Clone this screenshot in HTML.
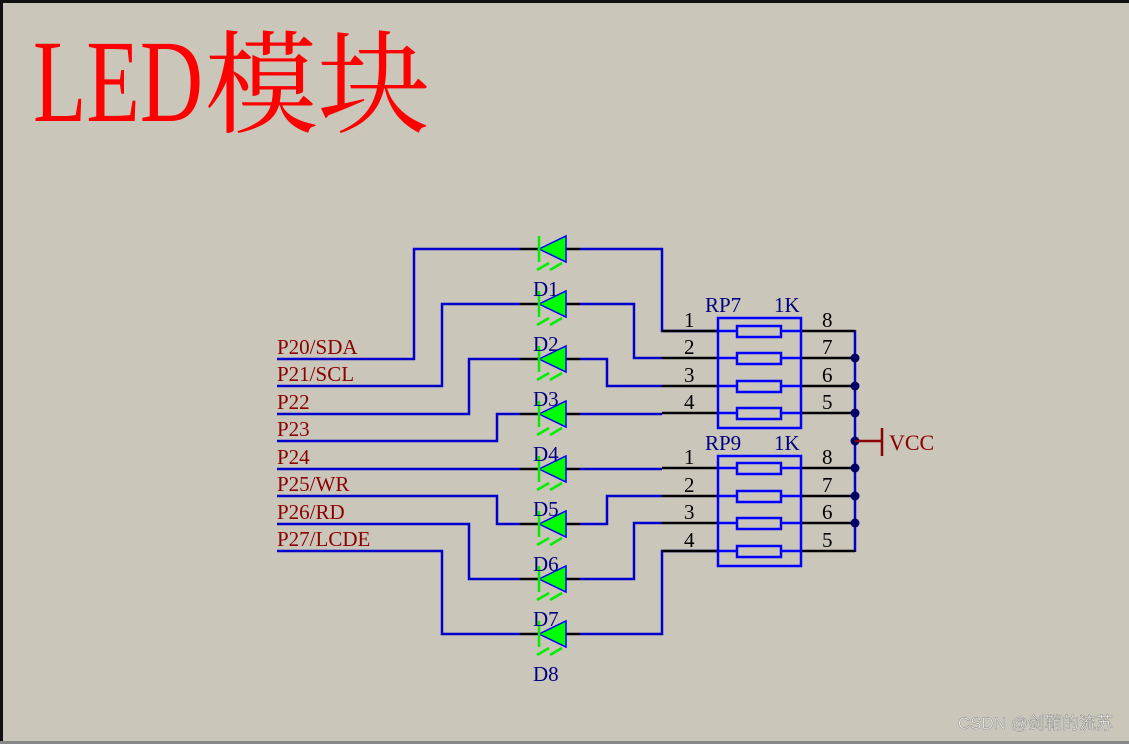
<!DOCTYPE html>
<html><head><meta charset="utf-8"><style>
html,body{margin:0;padding:0;background:#cac6ba;}
svg{display:block}
</style></head><body>
<svg width="1129" height="744" viewBox="0 0 1129 744" xmlns="http://www.w3.org/2000/svg">
<defs>
<g id="dio">
<line x1="520" y1="0" x2="539" y2="0" stroke="#000" stroke-width="2.5"/>
<line x1="566" y1="0" x2="580" y2="0" stroke="#000" stroke-width="2.5"/>
<polygon points="539,0 566,-13 566,13" fill="#00ff00" stroke="#0000ff" stroke-width="1.5"/>
<line x1="539" y1="-13" x2="539" y2="13" stroke="#00ee00" stroke-width="2.5"/>
<line x1="537" y1="21" x2="549" y2="14" stroke="#00ee00" stroke-width="2.5"/>
<line x1="550" y1="21" x2="562" y2="14" stroke="#00ee00" stroke-width="2.5"/>
</g>
</defs>
<rect width="1129" height="744" fill="#cac6ba"/>
<rect x="0" y="0" width="1129" height="3" fill="#111"/>
<rect x="0" y="0" width="3" height="744" fill="#111"/>
<rect x="0" y="741" width="1129" height="3" fill="#888"/>
<text x="33" y="121" font-family="Liberation Serif, serif" font-size="118" fill="#ff0000" textLength="170" lengthAdjust="spacingAndGlyphs">LED</text>
<text x="205" y="124" font-family="Noto Serif CJK SC, serif" font-size="112" fill="#ff0000" textLength="225" lengthAdjust="spacingAndGlyphs">模块</text>

<g fill="none" stroke="#0000cc" stroke-width="2.5">
<polyline points="277,359 414,359 414,249 520,249"/>
<polyline points="580,249 662,249 662,331 718,331"/>
<polyline points="277,386 442,386 442,304 520,304"/>
<polyline points="580,304 634,304 634,358 662,358"/>
<polyline points="277,414 469,414 469,359 520,359"/>
<polyline points="580,359 607,359 607,386 662,386"/>
<polyline points="277,441 497,441 497,414 520,414"/>
<polyline points="580,414 662,414"/>
<polyline points="277,469 520,469"/>
<polyline points="580,469 662,469"/>
<polyline points="277,496 497,496 497,524 520,524"/>
<polyline points="580,524 607,524 607,496 662,496"/>
<polyline points="277,524 469,524 469,579 520,579"/>
<polyline points="580,579 634,579 634,523 662,523"/>
<polyline points="277,551 442,551 442,634 520,634"/>
<polyline points="580,634 662,634 662,551 718,551"/>
<line x1="855" y1="330" x2="855" y2="552"/>
</g>

<use href="#dio" transform="translate(0,249)"/>
<use href="#dio" transform="translate(0,304)"/>
<use href="#dio" transform="translate(0,359)"/>
<use href="#dio" transform="translate(0,414)"/>
<use href="#dio" transform="translate(0,469)"/>
<use href="#dio" transform="translate(0,524)"/>
<use href="#dio" transform="translate(0,579)"/>
<use href="#dio" transform="translate(0,634)"/>
<g font-family="Liberation Serif, serif" font-size="21" fill="#000080">
<text x="533" y="296">D1</text><text x="533" y="351">D2</text><text x="533" y="406">D3</text><text x="533" y="461">D4</text>
<text x="533" y="516">D5</text><text x="533" y="571">D6</text><text x="533" y="626">D7</text><text x="533" y="681">D8</text>
</g>

<g stroke="#000" stroke-width="2.5">
<line x1="662" y1="331" x2="718" y2="331"/><line x1="662" y1="358" x2="718" y2="358"/>
<line x1="662" y1="386" x2="718" y2="386"/><line x1="662" y1="413" x2="718" y2="413"/>
<line x1="662" y1="468" x2="718" y2="468"/><line x1="662" y1="496" x2="718" y2="496"/>
<line x1="662" y1="523" x2="718" y2="523"/><line x1="662" y1="551" x2="718" y2="551"/>
<line x1="801" y1="331" x2="855" y2="331"/><line x1="801" y1="358" x2="855" y2="358"/>
<line x1="801" y1="386" x2="855" y2="386"/><line x1="801" y1="413" x2="855" y2="413"/>
<line x1="801" y1="468" x2="855" y2="468"/><line x1="801" y1="496" x2="855" y2="496"/>
<line x1="801" y1="523" x2="855" y2="523"/><line x1="801" y1="551" x2="855" y2="551"/>
</g>
<g fill="none" stroke="#0000ff" stroke-width="2.5">
<rect x="718" y="318" width="83" height="110"/>
<rect x="718" y="456" width="83" height="110"/>
<line x1="718" y1="331" x2="801" y2="331"/><line x1="718" y1="358" x2="801" y2="358"/>
<line x1="718" y1="386" x2="801" y2="386"/><line x1="718" y1="413" x2="801" y2="413"/>
<line x1="718" y1="468" x2="801" y2="468"/><line x1="718" y1="496" x2="801" y2="496"/>
<line x1="718" y1="523" x2="801" y2="523"/><line x1="718" y1="551" x2="801" y2="551"/>
</g>
<g fill="#cac6ba" stroke="#0000ff" stroke-width="2.5">
<rect x="737" y="326" width="44" height="11"/><rect x="737" y="353" width="44" height="11"/>
<rect x="737" y="381" width="44" height="11"/><rect x="737" y="408" width="44" height="11"/>
<rect x="737" y="463" width="44" height="11"/><rect x="737" y="491" width="44" height="11"/>
<rect x="737" y="518" width="44" height="11"/><rect x="737" y="546" width="44" height="11"/>
</g>
<g fill="#000066">
<circle cx="855" cy="358" r="4.5"/><circle cx="855" cy="386" r="4.5"/><circle cx="855" cy="413" r="4.5"/>
<circle cx="855" cy="441" r="4.5"/><circle cx="855" cy="468" r="4.5"/><circle cx="855" cy="496" r="4.5"/>
<circle cx="855" cy="523" r="4.5"/>
</g>
<g stroke="#8b0000" stroke-width="2.5">
<line x1="855" y1="441" x2="882" y2="441"/><line x1="882" y1="428" x2="882" y2="456"/>
</g>
<text x="889" y="450" font-family="Liberation Serif, serif" font-size="22" fill="#8b0000">VCC</text>

<g font-family="Liberation Serif, serif" font-size="21" fill="#000">
<text x="684" y="327">1</text><text x="684" y="354">2</text><text x="684" y="382">3</text><text x="684" y="409">4</text>
<text x="822" y="327">8</text><text x="822" y="354">7</text><text x="822" y="382">6</text><text x="822" y="409">5</text>
<text x="684" y="464">1</text><text x="684" y="492">2</text><text x="684" y="519">3</text><text x="684" y="547">4</text>
<text x="822" y="464">8</text><text x="822" y="492">7</text><text x="822" y="519">6</text><text x="822" y="547">5</text>
</g>
<g font-family="Liberation Serif, serif" font-size="21" fill="#000080">
<text x="705" y="312">RP7</text><text x="774" y="312">1K</text>
<text x="705" y="450">RP9</text><text x="774" y="450">1K</text>
</g>
<g font-family="Liberation Serif, serif" font-size="21" fill="#8b0000">
<text x="277" y="354">P20/SDA</text><text x="277" y="381">P21/SCL</text>
<text x="277" y="409">P22</text><text x="277" y="436">P23</text>
<text x="277" y="464">P24</text><text x="277" y="491">P25/WR</text>
<text x="277" y="519">P26/RD</text><text x="277" y="546">P27/LCDE</text>
</g>
<text x="1113" y="729" font-family="Liberation Sans, Noto Sans CJK SC, sans-serif" font-size="17" fill="#f4f3ee" stroke="#8a8a8a" stroke-width="0.5" text-anchor="end">CSDN @剑鞘的流苏</text>
</svg>
</body></html>
